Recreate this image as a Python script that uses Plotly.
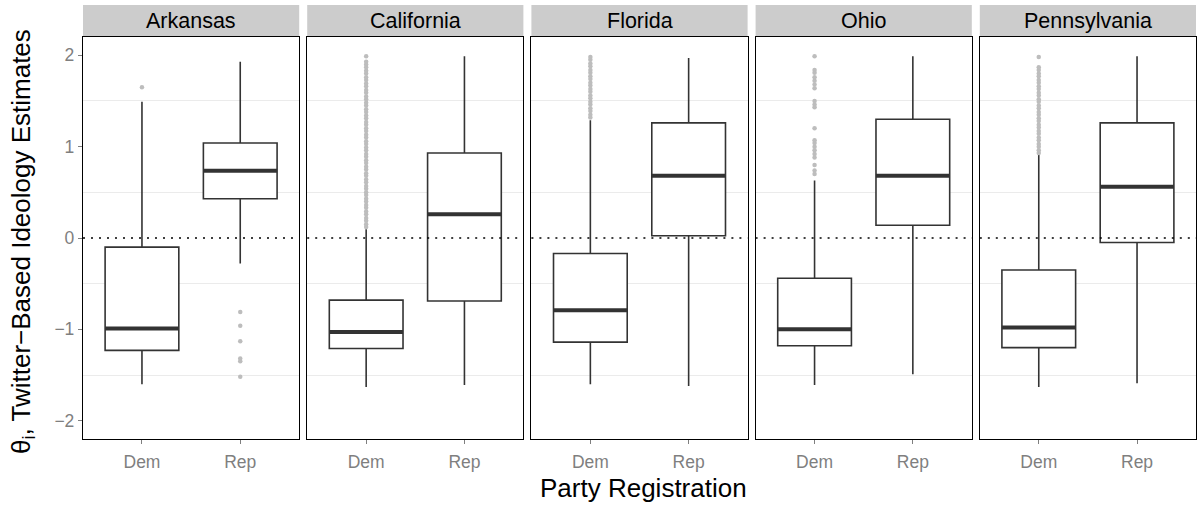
import plotly.graph_objects as go
from plotly.subplots import make_subplots

states = ["Arkansas", "California", "Florida", "Ohio", "Pennsylvania"]
parties = ["Dem", "Rep"]

# Box statistics (per state)
dem_lo = [-1.60, -1.63, -1.60, -1.61, -1.63]
dem_q1 = [-1.23, -1.21, -1.14, -1.18, -1.20]
dem_med = [-0.99, -1.03, -0.79, -1.00, -0.98]
dem_q3 = [-0.10, -0.68, -0.17, -0.44, -0.35]
dem_hi = [1.49, 0.095, 1.29, 0.63, 0.91]

rep_lo = [-0.28, -1.61, -1.62, -1.49, -1.59]
rep_q1 = [0.43, -0.69, 0.025, 0.14, -0.05]
rep_med = [0.735, 0.26, 0.68, 0.68, 0.56]
rep_q3 = [1.04, 0.93, 1.26, 1.30, 1.26]
rep_hi = [1.93, 1.99, 1.97, 1.99, 1.99]

# Outliers
ark_dem_out = [1.65]
ark_rep_out = [-0.81, -0.96, -1.13, -1.32, -1.35, -1.52]
cal_dem_out = [0.12, 0.15, 0.19, 0.22, 0.26, 0.29, 0.33, 0.36, 0.40, 0.43, 0.47, 0.50,
               0.54, 0.57, 0.61, 0.64, 0.68, 0.71, 0.75, 0.78, 0.82, 0.85, 0.89, 0.92,
               0.96, 0.99, 1.03, 1.06, 1.10, 1.13, 1.17, 1.20, 1.24, 1.27, 1.31, 1.34,
               1.38, 1.41, 1.45, 1.48, 1.52, 1.55, 1.59, 1.62, 1.66, 1.69, 1.73, 1.76,
               1.80, 1.83, 1.87, 1.90, 1.93, 1.99]
fla_dem_out = [1.32, 1.35, 1.39, 1.42, 1.46, 1.49, 1.53, 1.56, 1.60, 1.63, 1.67, 1.70,
               1.74, 1.77, 1.81, 1.84, 1.88, 1.91, 1.95, 1.98]
ohi_dem_out = [0.70, 0.74, 0.80, 0.88, 0.92, 0.96, 1.00, 1.04, 1.07, 1.20, 1.43, 1.46,
               1.50, 1.64, 1.68, 1.72, 1.76, 1.81, 1.84, 1.99]
pen_dem_out = [0.93, 0.96, 1.00, 1.03, 1.07, 1.10, 1.14, 1.17, 1.21, 1.24, 1.28, 1.31,
               1.35, 1.38, 1.42, 1.45, 1.49, 1.52, 1.56, 1.59, 1.63, 1.66, 1.70, 1.73,
               1.77, 1.80, 1.84, 1.87, 1.98]
dem_out = [ark_dem_out, cal_dem_out, fla_dem_out, ohi_dem_out, pen_dem_out]
rep_out = [ark_rep_out, [], [], [], []]

y_ticks = [-2, -1, 0, 1, 2]
y_ticktext = ["\u22122", "\u22121", "0", "1", "2"]
y_minor = [-1.5, -0.5, 0.5, 1.5]

W, H = 1198, 506
ML, MR, MT, MB = 83, 2, 37, 67
gap = 8
plot_w = W - ML - MR
plot_h = H - MT - MB
FONT = "Liberation Sans, Arial, Helvetica"

fig = make_subplots(rows=1, cols=5, shared_yaxes=False,
                    horizontal_spacing=gap / plot_w)

BOXW = 0.75
LINEC = "#333333"
for i, st in enumerate(states):
    col = i + 1
    stats = [
        (dem_lo[i], dem_q1[i], dem_med[i], dem_q3[i], dem_hi[i], dem_out[i]),
        (rep_lo[i], rep_q1[i], rep_med[i], rep_q3[i], rep_hi[i], rep_out[i]),
    ]
    for j, (lo, q1, med, q3, hi, outs) in enumerate(stats):
        pos = j + 1
        if outs:
            fig.add_trace(go.Scatter(
                x=[pos] * len(outs), y=outs, mode="markers",
                marker=dict(color="#bdbdbd", size=4.5, line=dict(width=0)),
                showlegend=False, hoverinfo="skip"), row=1, col=col)
        fig.add_trace(go.Box(
            x=[pos], q1=[q1], median=[med], q3=[q3],
            lowerfence=[lo], upperfence=[hi],
            width=BOXW, whiskerwidth=0, boxpoints=False,
            fillcolor="white", line=dict(color=LINEC, width=1.6),
            showlegend=False), row=1, col=col)
        fig.add_trace(go.Scatter(
            x=[pos - BOXW / 2, pos + BOXW / 2], y=[med, med], mode="lines",
            line=dict(color=LINEC, width=4), showlegend=False,
            hoverinfo="skip"), row=1, col=col)

    xa = "x" if col == 1 else f"x{col}"
    ya = "y" if col == 1 else f"y{col}"
    fig.add_shape(type="line", xref=f"{xa} domain", x0=0, x1=1,
                  yref=ya, y0=0, y1=0,
                  line=dict(color="black", width=1.6, dash="2px,6px"))

    fig.update_xaxes(row=1, col=col, range=[0.4, 2.6], tickvals=[1, 2],
                     ticktext=parties, showgrid=False, zeroline=False,
                     showline=True, mirror=True, linecolor="black", linewidth=1.3,
                     ticks="outside", ticklen=4, tickwidth=1.3, tickcolor="#7f7f7f",
                     ticklabelstandoff=3,
                     tickfont=dict(family=FONT, size=17.5, color="#7f7f7f"))
    fig.update_yaxes(row=1, col=col, range=[-2.2, 2.2], tickvals=y_ticks,
                     ticktext=y_ticktext, showgrid=False, zeroline=False,
                     showline=True, mirror=True, linecolor="black", linewidth=1.3,
                     ticks="outside" if col == 1 else "", ticklen=4, tickwidth=1.3,
                     tickcolor="#7f7f7f", showticklabels=(col == 1),
                     tickfont=dict(family=FONT, size=17.5, color="#7f7f7f"),
                     minor=dict(tickvals=y_minor, showgrid=True, gridcolor="#ebebeb",
                                gridwidth=1, ticks=""))

    # strip
    dom = fig.layout[f"xaxis{'' if col == 1 else col}"].domain
    fig.add_shape(type="rect", xref="paper", yref="paper",
                  x0=dom[0], x1=dom[1], y0=1.0, y1=1 + 32 / plot_h,
                  fillcolor="#cccccc", line=dict(width=0), layer="below")
    fig.add_annotation(xref="paper", yref="paper", x=(dom[0] + dom[1]) / 2,
                       y=1 + 16 / plot_h, text=st, showarrow=False,
                       xanchor="center", yanchor="middle",
                       font=dict(family=FONT, size=21.5, color="black"))

fig.add_annotation(xref="paper", yref="paper", x=(643 - ML) / plot_w, y=-(49 / plot_h),
                   text="Party Registration", showarrow=False,
                   xanchor="center", yanchor="middle",
                   font=dict(family=FONT, size=26, color="black"))
fig.add_annotation(xref="paper", yref="paper", x=-(61 / plot_w), y=0.49,
                   text="\u03b8<sub>i</sub>, Twitter\u2212Based Ideology Estimates",
                   showarrow=False, textangle=-90, xanchor="center", yanchor="middle",
                   font=dict(family=FONT, size=26, color="black"))

fig.update_layout(width=W, height=H, margin=dict(l=ML, r=MR, t=MT, b=MB),
                  paper_bgcolor="white", plot_bgcolor="white", showlegend=False)

fig.write_html("out.html", config={"displayModeBar": False},
               post_script="document.body.style.margin='0px';")
